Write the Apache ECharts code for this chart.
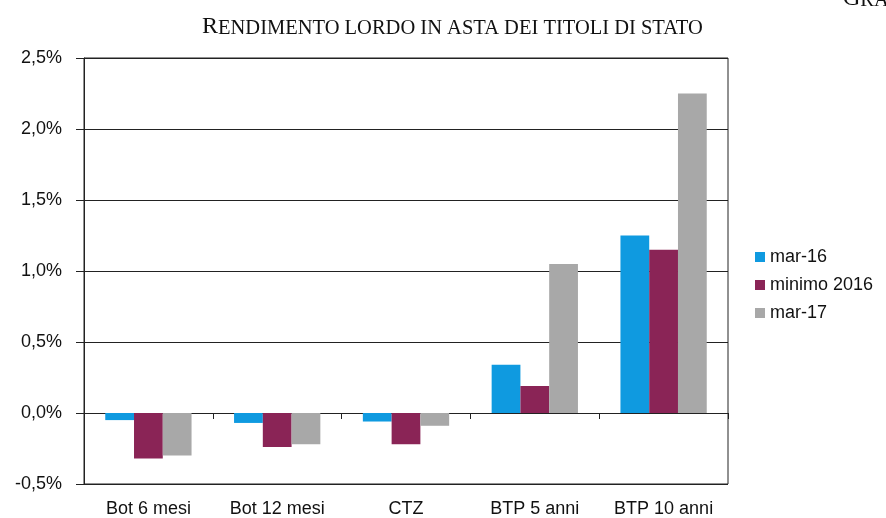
<!DOCTYPE html>
<html>
<head>
<meta charset="utf-8">
<script src="https://cdn.jsdelivr.net/npm/echarts@6/dist/echarts.min.js"></script>
<style>
html, body { margin: 0; padding: 0; background: #fff; }
#main { width: 886px; height: 518px; }
</style>
</head>
<body>
<div id="main"></div>
<script>
var categories = ['Bot 6 mesi', 'Bot 12 mesi', 'CTZ', 'BTP 5 anni', 'BTP 10 anni'];
var seriesNames = ['mar-16', 'minimo 2016', 'mar-17'];
var mar16 = [-0.05, -0.07, -0.06, 0.34, 1.25];
var minimo2016 = [-0.32, -0.24, -0.22, 0.19, 1.15];
var mar17 = [-0.30, -0.22, -0.09, 1.05, 2.25];
var colors = ['#0f9ae0', '#8a2456', '#a8a8a8'];

var chart = echarts.init(document.getElementById('main'));

function fmt(v){
	return v.toFixed(1).replace('.', ',') + '%';
}

function bar(name, data, color){
	return {
		name: name,
		type: 'bar',
		xAxisIndex: 0,
		data: data,
		barGap: '0%',
		barCategoryGap: '33%',
		itemStyle: { color: color },
		emphasis: { disabled: true }
	};
}

// small caps done with rich text: big first letter, smaller rest
var capsRich = {
	b: { fontFamily: 'Liberation Serif', fontSize: 24, fill: '#111', verticalAlign: 'bottom' },
	s: { fontFamily: 'Liberation Serif', fontSize: 20.5, fill: '#111', verticalAlign: 'bottom' }
};

var option = {
	animation: false,
	color: colors,
	textStyle: { fontFamily: 'Liberation Sans, Arial, sans-serif' },
	graphic: [{
		type: 'text',
		left: 202,
		top: 15,
		style: {
			text: '{b|R}{s|ENDIMENTO LORDO IN ASTA DEI TITOLI DI STATO}',
			rich: capsRich
		}
	}, {
		type: 'text',
		left: 843,
		top: -13,
		style: {
			text: '{b|G}{s|RA}',
			rich: capsRich
		}
	}],
	legend: {
		orient: 'vertical',
		left: 750,
		top: 243,
		itemWidth: 10,
		itemHeight: 10,
		itemGap: 10,
		icon: 'rect',
		data: seriesNames,
		textStyle: { fontSize: 18, color: '#111' }
	},
	grid: {
		left: 84,
		right: 158,
		top: 58,
		bottom: 34,
		show: true,
		borderColor: '#222',
		borderWidth: 1
	},
	xAxis: [{
		type: 'category',
		data: categories,
		position: 'bottom',
		axisLine: { onZero: true, lineStyle: { color: '#222' } },
		axisTick: { show: true, length: 6, lineStyle: { color: '#222' } },
		axisLabel: { show: false }
	}, {
		type: 'category',
		data: categories,
		position: 'bottom',
		axisLine: { show: false, onZero: false },
		axisTick: { show: false },
		axisLabel: { show: true, interval: 0, margin: 16, fontSize: 18, color: '#111' }
	}],
	yAxis: {
		type: 'value',
		min: -0.5,
		max: 2.5,
		interval: 0.5,
		axisLine: { show: true, lineStyle: { color: '#222' } },
		axisTick: { show: true, length: 8, lineStyle: { color: '#222' } },
		axisLabel: { margin: 22, fontSize: 18, color: '#111', formatter: fmt },
		splitLine: { show: true, lineStyle: { color: '#222', width: 1 } }
	},
	series: [
		bar(seriesNames[0], mar16, colors[0]),
		bar(seriesNames[1], minimo2016, colors[1]),
		bar(seriesNames[2], mar17, colors[2])
	]
};

chart.setOption(option);
</script>
</body>
</html>
